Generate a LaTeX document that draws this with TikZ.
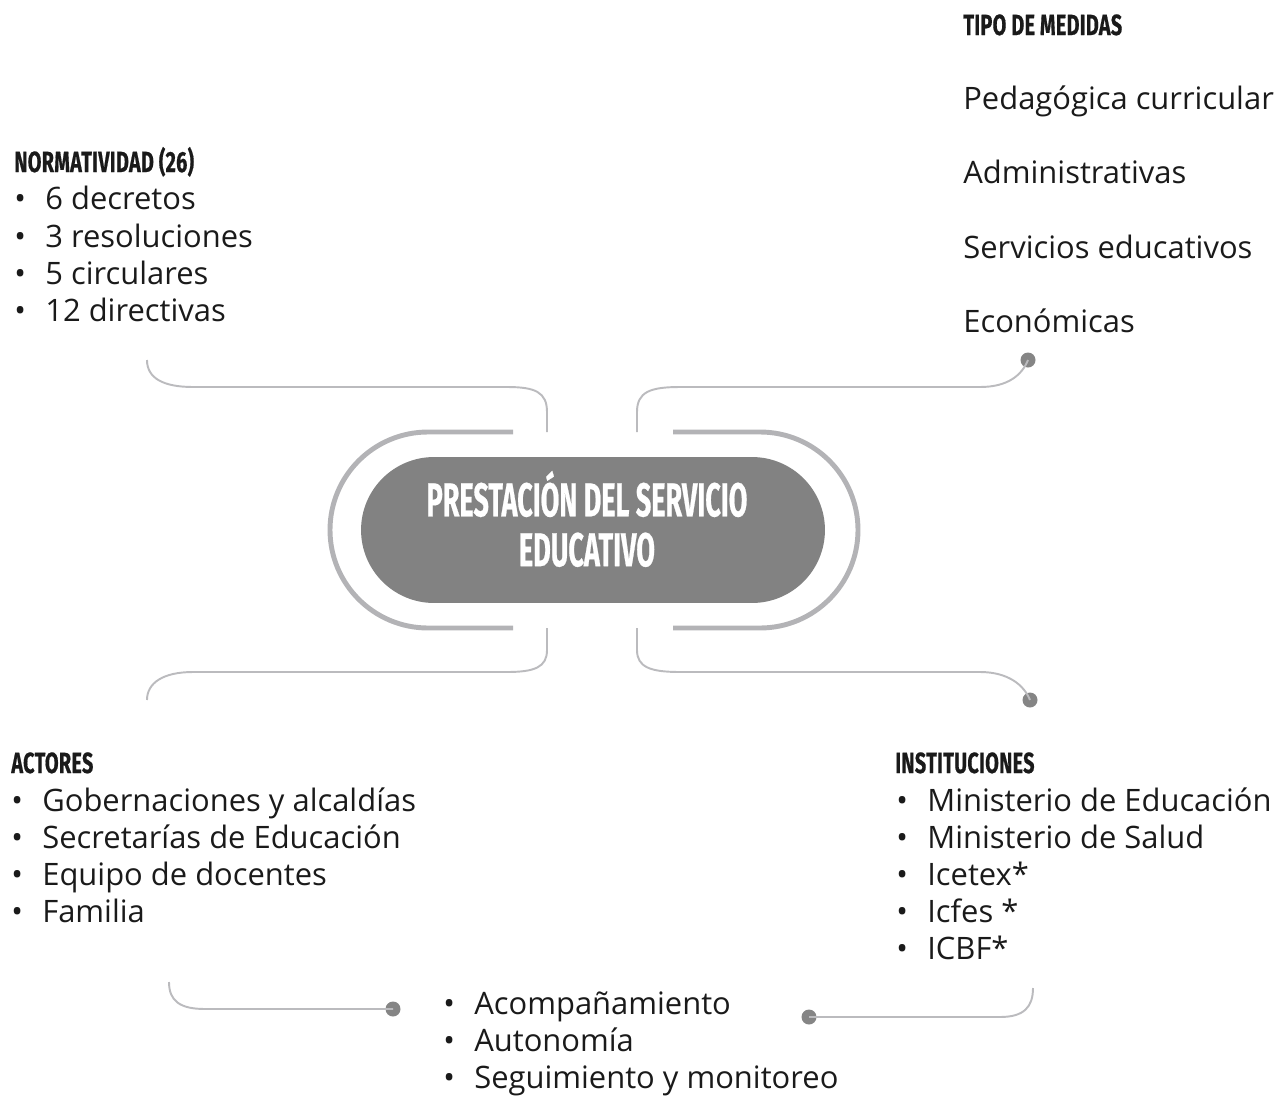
\documentclass[tikz,border=0pt]{standalone}
\usepackage{fontspec}
\setmainfont{Open Sans}
\newfontfamily\headfont[FakeStretch=0.68,FakeBold=0.5,LetterSpace=1]{Fira Sans}
\newfontfamily\hubfont[FakeStretch=0.57,FakeBold=0.5]{Fira Sans}
\usetikzlibrary{positioning,shapes.misc,calc}
\definecolor{ringGray}{HTML}{B3B3B6}
\definecolor{lineGray}{HTML}{BBBBBE}
\definecolor{dotGray}{HTML}{858585}
\definecolor{hubGray}{HTML}{828282}
\definecolor{inkBlack}{HTML}{1A1A1A}
\newcommand{\bul}[1]{\makebox[0.62cm][l]{\textbullet}#1}
\tikzset{%
  head/.style={anchor=base west, inner sep=0pt, text=inkBlack,
    font=\headfont\bfseries\fontsize{16.6}{20}\selectfont},
  item/.style={anchor=base west, inner sep=0pt, text=inkBlack,
    font=\fontsize{17.6}{21}\selectfont},
  link/.style={draw=lineGray, line width=1.1pt},
  ring/.style={draw=ringGray, line width=2.8pt},
  endDot/.style={circle, fill=dotGray, inner sep=0pt, minimum size=0.3cm},
  hub/.style={rounded rectangle, fill=hubGray, minimum width=9.28cm,
    minimum height=2.92cm, inner sep=0pt},
  hubLabel/.style={text=white, align=center, inner sep=0pt,
    font=\hubfont\bfseries\fontsize{27}{28.4}\selectfont}
}
\begin{document}
\begin{tikzpicture}[x=0.02cm,y=-0.02cm]
\useasboundingbox (0,0) rectangle (1286,1096);

% centre
\node[hub] (hubNode) at (593,530) {};
\node[hubLabel] (hubText) at ($(hubNode.center)+(-6,-11)$) {PRESTACIÓN DEL SERVICIO\\EDUCATIVO};
\draw[ring] (513,432) -- (428,432) arc[start angle=-90, end angle=-270, radius=98] -- (513,628);
\draw[ring] (673,432) -- (760,432) arc[start angle=-90, end angle=90, radius=98] -- (673,628);

% end points of the links
\coordinate (tlRing) at (547,432);  \coordinate (tlEnd) at (147,360);
\coordinate (trRing) at (637,432);
\coordinate (blRing) at (547,628);  \coordinate (blEnd) at (147,700);
\coordinate (brRing) at (637,628);
\coordinate (llEnd) at (169,982);   \coordinate (lrEnd) at (1033,988);
\node[endDot] (trDot) at (1028,360) {};
\node[endDot] (brDot) at (1030,700) {};
\node[endDot] (llDot) at (393,1009) {};
\node[endDot] (lrDot) at (809,1017) {};

\draw[link] (tlRing) -- (547,412) .. controls (547,392) and (535,387) .. (507,387)
  -- (193,387) .. controls (163,387) and (147,378) .. (tlEnd);
\draw[link] (trRing) -- (637,412) .. controls (637,392) and (650,387) .. (680,387)
  -- (980,387) .. controls (1008,387) and (1022,375) .. (trDot.center);
\draw[link] (blRing) -- (547,650) .. controls (547,667) and (535,672) .. (507,672)
  -- (193,672) .. controls (163,672) and (147,683) .. (blEnd);
\draw[link] (brRing) -- (637,650) .. controls (637,667) and (650,672) .. (680,672)
  -- (980,672) .. controls (1008,672) and (1024,685) .. (brDot.center);
\draw[link] (llEnd) .. controls (169,1001) and (180,1009) .. (205,1009) -- (llDot.center);
\draw[link] (lrDot.center) -- (1000,1017) .. controls (1024,1017) and (1033,1007) .. (lrEnd);

% tipo de medidas
\node[head] (tipoHead) at (963,35) {TIPO DE MEDIDAS};
\node[item] (tipoA) at (963,109) {Pedagógica curricular};
\node[item] (tipoB) at (963,183) {Administrativas};
\node[item] (tipoC) at (963,258) {Servicios educativos};
\node[item] (tipoD) at (963,332) {Económicas};

% normatividad
\node[head] (normHead) at (14,172) {NORMATIVIDAD (26)};
\node[item] (normA) at (14,209) {\bul{6 decretos}};
\node[item] (normB) at (14,247) {\bul{3 resoluciones}};
\node[item] (normC) at (14,284) {\bul{5 circulares}};
\node[item] (normD) at (14,321) {\bul{12 directivas}};

% actores
\node[head] (actHead) at (11,773) {ACTORES};
\node[item] (actA) at (11,811) {\bul{Gobernaciones y alcaldías}};
\node[item] (actB) at (11,848) {\bul{Secretarías de Educación}};
\node[item] (actC) at (11,885) {\bul{Equipo de docentes}};
\node[item] (actD) at (11,922) {\bul{Familia}};

% instituciones
\node[head] (instHead) at (895,773) {INSTITUCIONES};
\node[item] (instA) at (896,811) {\bul{Ministerio de Educación}};
\node[item] (instB) at (896,848) {\bul{Ministerio de Salud}};
\node[item] (instC) at (896,885) {\bul{Icetex*}};
\node[item] (instD) at (896,922) {\bul{Icfes *}};
\node[item] (instE) at (896,959) {\bul{ICBF*}};

% acompanamiento
\node[item] (acoA) at (443,1014) {\bul{Acompañamiento}};
\node[item] (acoB) at (443,1051) {\bul{Autonomía}};
\node[item] (acoC) at (443,1088) {\bul{Seguimiento y monitoreo}};
\end{tikzpicture}
\end{document}
